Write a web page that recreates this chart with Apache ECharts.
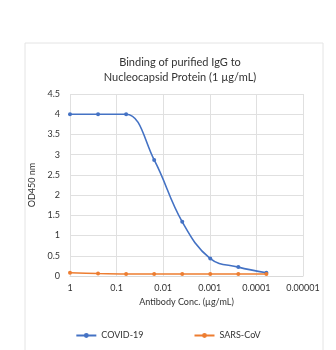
<!DOCTYPE html>
<html><head><meta charset="utf-8">
<script src="https://cdn.jsdelivr.net/npm/echarts@6/dist/echarts.min.js"></script>
<style>html,body{margin:0;padding:0;background:#fff}#c{width:336px;height:350px}</style>
</head><body><div id="c"></div>
<script>
var concentrations = [1, 0.25, 0.0625, 0.015625, 0.00390625, 0.0009765625, 0.000244140625, 0.00006103515625];
var covid19 = [4.0, 4.0, 4.0, 2.87, 1.34, 0.43, 0.22, 0.08];
var sarsCov = [0.08, 0.06, 0.05, 0.05, 0.05, 0.05, 0.05, 0.05];
var xTickLabels = ['1', '0.1', '0.01', '0.001', '0.0001', '0.00001'];
var seriesNames = ['COVID-19', 'SARS-CoV'];

function pairs(ys){ return concentrations.map(function(c,i){ return [c, ys[i]]; }); }
var font = 'Lato, "Open Sans", sans-serif';
var chart = echarts.init(document.getElementById('c'));
chart.setOption({
  animation: false,
  backgroundColor: '#fff',
  graphic: [{type:'rect', shape:{x:25, y:43, width:298, height:310}, style:{fill:'none', stroke:'#e4e4e4', lineWidth:1}}],
  title: {
    text: 'Binding of purified IgG to\nNucleocapsid Protein (1 µg/mL)',
    left: 175, top: 50, textAlign: 'center',
    textStyle: {fontFamily: font, fontSize: 11, fontWeight: 'normal', color: '#333', lineHeight: 15}
  },
  legend: {
    data: seriesNames, bottom: 5, left: 'center', itemGap: 50, itemWidth: 20, itemHeight: 6,
    textStyle: {fontFamily: font, fontSize: 9, color: '#333'}
  },
  grid: {left: 70, right: 33, top: 94, bottom: 74},
  xAxis: {
    type: 'log', logBase: 10, min: 0.00001, max: 1, inverse: true,
    name: 'Antibody Conc. (µg/mL)', nameLocation: 'middle', nameGap: 13,
    nameTextStyle: {fontFamily: font, fontSize: 9, color: '#333'},
    axisLine: {show: true, lineStyle: {color: '#d9d9d9'}},
    axisTick: {show: false},
    splitLine: {show: true, lineStyle: {color: '#e0e0e0'}},
    axisLabel: {fontFamily: font, fontSize: 9, color: '#333', margin: 8,
      formatter: function(v){ var k = Math.round(-Math.log10(v)); return xTickLabels[k] || ''; }}
  },
  yAxis: {
    type: 'value', min: 0, max: 4.5, interval: 0.5,
    name: 'OD450 nm', nameLocation: 'middle', nameGap: 24, nameRotate: 90,
    nameTextStyle: {fontFamily: font, fontSize: 9, color: '#333'},
    axisLine: {show: false}, axisTick: {show: false},
    splitLine: {lineStyle: {color: '#e0e0e0'}},
    axisLabel: {fontFamily: font, fontSize: 9, color: '#333', margin: 10}
  },
  series: [
    {name: seriesNames[0], type: 'line', data: pairs(covid19), smooth: 0.4,
     symbol: 'circle', symbolSize: 4, itemStyle: {color: '#4472C4'}, lineStyle: {width: 1.6, color: '#4472C4'}},
    {name: seriesNames[1], type: 'line', data: pairs(sarsCov), smooth: 0.3,
     symbol: 'circle', symbolSize: 4, itemStyle: {color: '#ED7D31'}, lineStyle: {width: 1.6, color: '#ED7D31'}}
  ]
});
</script></body></html>
